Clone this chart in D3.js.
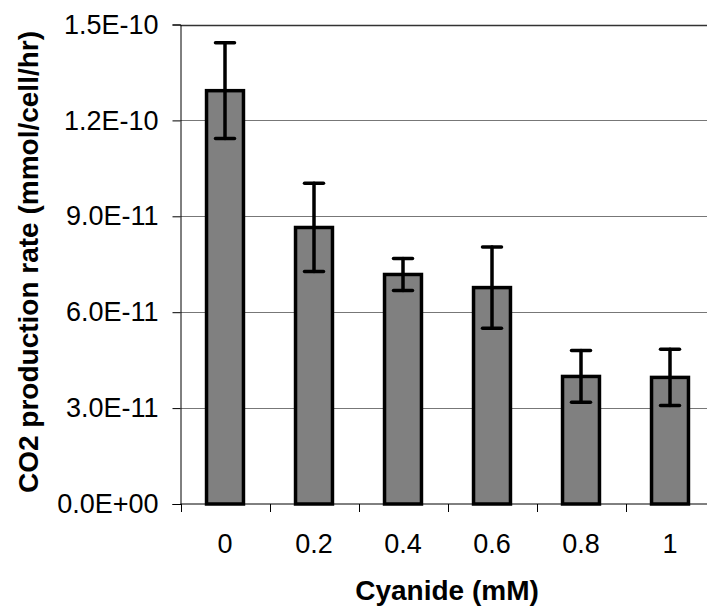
<!DOCTYPE html>
<html>
<head>
<meta charset="utf-8">
<script src="https://cdn.jsdelivr.net/npm/d3@7"></script>
<style>
  body { margin: 0; background: #fff; }
  svg { display: block; font-family: "Liberation Sans", Arial, sans-serif; }
</style>
</head>
<body>
<svg width="707" height="608"></svg>
<script>
// cyanide concentrations (mM)
var categories = ["0", "0.2", "0.4", "0.6", "0.8", "1"];
// mean CO2 production rate, mmol/cell/hr
var rates = [1.293e-10, 0.865e-10, 0.718e-10, 0.677e-10, 0.399e-10, 0.396e-10];
// error bar half widths
var errors = [0.150e-10, 0.138e-10, 0.050e-10, 0.127e-10, 0.081e-10, 0.088e-10];
var yTicks = [0, 3e-11, 6e-11, 9e-11, 1.2e-10, 1.5e-10];

var data = categories.map(function(c, i) {
  return { cat: c, val: rates[i], err: errors[i] };
});

var svg = d3.select("svg"),
    margin = {top: 24.5, left: 180.5, bottom: 504},
    step = 89;

var x = d3.scaleBand()
    .domain(categories)
    .range([margin.left, margin.left + step * categories.length])
    .paddingInner(0.585)
    .paddingOuter(0.2925);

var y = d3.scaleLinear().domain([0, 1.5e-10]).range([margin.bottom, margin.top]);

var fmt = function(v) {
  if (v === 0) return "0.0E+00";
  var s = v.toExponential(1).toUpperCase(); // e.g. 1.5E-10
  return s.replace(/E([+-])(\d)$/, "E$10$2");
};

// gridlines
svg.append("g").selectAll("line")
  .data(yTicks.filter(function(d) { return d > 0; }))
  .enter().append("line")
    .attr("x1", margin.left).attr("x2", 707)
    .attr("y1", function(d) { return Math.round(y(d)) + 0.5; })
    .attr("y2", function(d) { return Math.round(y(d)) + 0.5; })
    .attr("stroke", function(d) { return d === 1.5e-10 ? "#333" : "#777"; })
    .attr("stroke-width", function(d) { return d === 1.5e-10 ? 1.5 : 1; });

// y axis
var yAxis = svg.append("g")
    .attr("transform", "translate(" + margin.left + ",0)")
    .call(d3.axisLeft(y).tickValues(yTicks).tickFormat(fmt).tickSizeOuter(0).tickSize(8).tickPadding(14));
yAxis.select(".domain").attr("stroke", "#000");
yAxis.selectAll(".tick line").attr("stroke", "#000");
yAxis.selectAll("text")
    .attr("font-size", "27px")
    .attr("font-family", "Liberation Sans, Arial, sans-serif")
    .attr("fill", "#000");

// x axis with ticks at category boundaries
var xAxis = svg.append("g")
    .attr("transform", "translate(0," + margin.bottom + ")");
xAxis.append("line")
    .attr("x1", margin.left).attr("x2", 707)
    .attr("stroke", "#000");
xAxis.selectAll(".bound")
  .data(categories)
  .enter().append("line")
    .attr("class", "bound")
    .attr("x1", function(d) { return Math.round(x(d) - x.step() * 0.2925) + 0.5; })
    .attr("x2", function(d) { return Math.round(x(d) - x.step() * 0.2925) + 0.5; })
    .attr("y1", 0).attr("y2", 8)
    .attr("stroke", "#000");
xAxis.selectAll(".lbl")
  .data(categories)
  .enter().append("text")
    .attr("class", "lbl")
    .attr("x", function(d) { return x(d) + x.bandwidth() / 2; })
    .attr("y", 40)
    .attr("dy", "0.35em")
    .attr("text-anchor", "middle")
    .attr("font-size", "27px")
    .text(function(d) { return d; });

// bars
svg.append("g").selectAll("rect")
  .data(data)
  .enter().append("rect")
    .attr("x", function(d) { return x(d.cat); })
    .attr("y", function(d) { return y(d.val); })
    .attr("width", x.bandwidth())
    .attr("height", function(d) { return y(0) - y(d.val); })
    .attr("fill", "#808080")
    .attr("stroke", "#000")
    .attr("stroke-width", 3.5);

// error bars
var eb = svg.append("g").selectAll("g")
  .data(data)
  .enter().append("g")
    .attr("stroke", "#000")
    .attr("stroke-width", 3.5)
    .attr("stroke-linecap", "round");
eb.append("line")
    .attr("x1", function(d) { return x(d.cat) + x.bandwidth() / 2; })
    .attr("x2", function(d) { return x(d.cat) + x.bandwidth() / 2; })
    .attr("y1", function(d) { return y(d.val + d.err); })
    .attr("y2", function(d) { return y(d.val - d.err); });
eb.selectAll(".cap")
  .data(function(d) { return [d, d]; })
  .enter().append("line")
    .attr("x1", function(d) { return x(d.cat) + x.bandwidth() / 2 - 9.5; })
    .attr("x2", function(d) { return x(d.cat) + x.bandwidth() / 2 + 9.5; })
    .attr("y1", function(d, i) { return y(i ? d.val - d.err : d.val + d.err); })
    .attr("y2", function(d, i) { return y(i ? d.val - d.err : d.val + d.err); });

// axis titles
svg.append("text")
    .attr("x", 447)
    .attr("y", 590)
    .attr("dy", "0.35em")
    .attr("text-anchor", "middle")
    .attr("font-size", "28px")
    .attr("font-weight", "bold")
    .text("Cyanide (mM)");

svg.append("text")
    .attr("transform", "translate(28,262) rotate(-90)")
    .attr("dy", "0.35em")
    .attr("text-anchor", "middle")
    .attr("font-size", "28px")
    .attr("font-weight", "bold")
    .text("CO2 production rate (mmol/cell/hr)");
</script>
</body>
</html>
